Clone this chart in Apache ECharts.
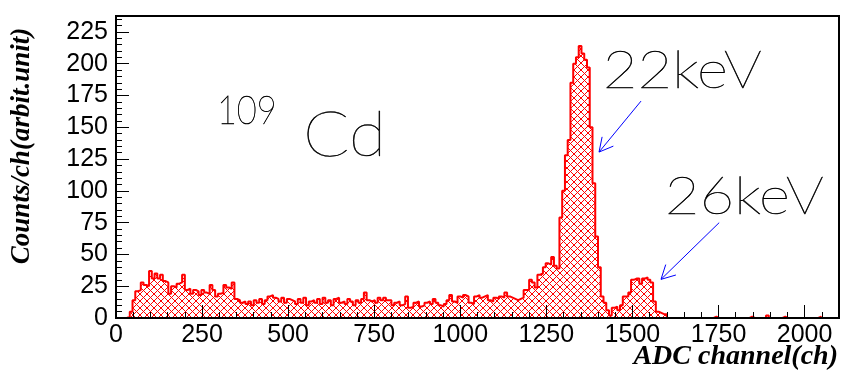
<!DOCTYPE html>
<html>
<head>
<meta charset="utf-8">
<script src="https://cdn.jsdelivr.net/npm/echarts@6/dist/echarts.min.js"></script>
<style>
  html, body { margin: 0; padding: 0; background: #ffffff; }
  #chart { width: 841px; height: 372px; }
</style>
</head>
<body>
<div id="chart"></div>
<script>
// 109Cd spectrum: counts per 8-channel ADC bin, channels 0..2048
const binWidth = 8;
const counts = [
  0, 0, 0, 0, 1, 5, 14, 21, 22, 28, 26, 25, 37, 31, 35, 31,          // 0 - 127
  34, 29, 28, 19, 25, 24, 27, 28, 34, 22, 23, 19, 22, 21, 18, 22,     // 128 - 255
  20, 19, 26, 22, 17, 19, 20, 26, 24, 23, 28, 15, 14, 12, 13, 11,     // 256 - 383
  13, 10, 14, 12, 15, 11, 14, 17, 18, 16, 15, 13, 16, 12, 15, 14,     // 384 - 511
  13, 11, 15, 12, 16, 10, 13, 14, 12, 15, 11, 16, 12, 14, 10, 15,     // 512 - 639
  16, 12, 13, 11, 15, 13, 10, 14, 12, 15, 20, 14, 13, 14, 12, 16,     // 640 - 767
  14, 16, 14, 14, 10, 12, 13, 10, 11, 17, 8, 9, 12, 13, 9, 10,        // 768 - 895
  12, 13, 11, 15, 12, 10, 9, 11, 14, 18, 13, 12, 17, 16, 18, 17,      // 896 - 1023
  12, 11, 17, 18, 16, 17, 18, 14, 13, 16, 15, 17, 16, 20, 17, 16,     // 1024 - 1151
  15, 14, 15, 16, 22, 22, 30, 28, 24, 34, 35, 40, 43, 42, 48, 41,     // 1152 - 1279
  39, 79, 100, 128, 140, 185, 200, 205, 214, 208, 203, 197, 150, 106, 64, 40, // 1280 - 1407
  17, 12, 6, 2, 8, 9, 6, 10, 17, 17, 20, 30, 31, 31, 27, 31,          // 1408 - 1535
  32, 30, 28, 13, 5, 4, 3, 3, 0, 0, 0, 0, 0, 0, 0, 0,                 // 1536 - 1663
  0, 0, 0, 0, 0, 0, 0, 0, 0, 1, 0, 0, 0, 0, 0, 0,                     // 1664 - 1791
  0, 0, 0, 0, 0, 0, 1, 0, 0, 0, 0, 0, 2, 0, 0, 0,                     // 1792 - 1919
  0, 0, 1, 0, 0, 0, 0, 0, 0, 0, 0, 0, 0, 0, 0, 1                      // 1920 - 2047
];

// axis ranges and tick spacing
const xRange = [0, 2100];
const yRange = [0, 237.5];
const xMajorStep = 250, xMinorStep = 50;
const yMajorStep = 25, yMinorStep = 5;

// text drawn on the plot
const xTitle = 'ADC channel(ch)';
const yTitle = 'Counts/ch(arbit.unit)';
const massNumber = '109';
const element = 'Cd';
const lineNames = ['22keV', '26keV'];

// annotation anchors in data units [channel, counts]
const layout = {
  massNumber: [293, 162.8],
  element: [543, 143],
  lineText: [[1414, 194.2], [1594, 94.8]],
  arrowTail: [[1525, 170.6], [1752, 75]],
  arrowTip: [[1403, 130.5], [1583, 30.4]]
};

// step outline points at the left edge of every bin, closed at the last edge
const steps = counts.map((c, i) => [i * binWidth, c]);
steps.push([counts.length * binWidth, 0]);

function hatchTile() {
  const n = 7;
  const c = document.createElement('canvas');
  c.width = n; c.height = n;
  const g = c.getContext('2d');
  g.strokeStyle = '#ff0000';
  g.lineWidth = 1;
  g.beginPath();
  g.moveTo(-1, -1); g.lineTo(n + 1, n + 1);
  g.moveTo(-1, n + 1); g.lineTo(n + 1, -1);
  g.stroke();
  return c;
}

const tickFont = { fontFamily: '"Liberation Sans", Arial, sans-serif', fontSize: 25, color: '#000' };
const plainNumber = (v) => String(v);

function axisPair(kind, range, major, minor, pos) {
  const isX = kind === 'x';
  return [
    {
      type: 'value', min: range[0], max: range[1], interval: major,
      position: pos, z: 5,
      axisLine: { show: true, lineStyle: { color: '#000', width: 2 } },
      axisTick: { show: true, inside: true, length: 13, lineStyle: { color: '#000', width: 1 } },
      axisLabel: Object.assign({ margin: isX ? 5 : 8, showMaxLabel: false, showMinLabel: true, formatter: plainNumber }, tickFont),
      splitLine: { show: false }
    },
    {
      type: 'value', min: range[0], max: range[1], interval: minor,
      position: pos, z: 5,
      axisLine: { show: false },
      axisTick: { show: true, inside: true, length: 6, lineStyle: { color: '#000', width: 1 } },
      axisLabel: { show: false },
      splitLine: { show: false }
    }
  ];
}

const chart = echarts.init(document.getElementById('chart'), null, { renderer: 'canvas' });

chart.setOption({
  animation: false,
  backgroundColor: '#ffffff',
  grid: {
    left: 116, right: 2, top: 16, bottom: 54,
    show: true, borderColor: '#000', borderWidth: 2, backgroundColor: 'transparent'
  },
  xAxis: axisPair('x', xRange, xMajorStep, xMinorStep, 'bottom'),
  yAxis: axisPair('y', yRange, yMajorStep, yMinorStep, 'left'),
  series: [{
    type: 'line',
    xAxisIndex: 0, yAxisIndex: 0,
    data: steps,
    step: 'end',
    symbol: 'none',
    silent: true,
    lineStyle: { color: '#ff0000', width: 2 },
    areaStyle: { color: { image: hatchTile(), repeat: 'repeat' }, opacity: 1 },
    z: 2
  }]
});

function px(p) {
  return chart.convertToPixel({ xAxisIndex: 0, yAxisIndex: 0 }, p);
}

function arrow(tailData, tipData) {
  const s = px(tailData), t = px(tipData);
  const dx = s[0] - t[0], dy = s[1] - t[1];
  const len = Math.hypot(dx, dy);
  const ux = dx / len, uy = dy / len;
  const a = 28 * Math.PI / 180, h = 15.5;
  const rot = (ang) => [t[0] + h * (ux * Math.cos(ang) - uy * Math.sin(ang)),
                        t[1] + h * (ux * Math.sin(ang) + uy * Math.cos(ang))];
  const style = { stroke: '#0000ff', lineWidth: 1, fill: null };
  return [
    { type: 'polyline', shape: { points: [s, t] }, style, silent: true, z: 10 },
    { type: 'polyline', shape: { points: [rot(a), t, rot(-a)] }, style, silent: true, z: 10 }
  ];
}

// thin stroked lettering for the isotope and line names
function label(text, at, size, stretch) {
  const p = px(at);
  return {
    type: 'text', x: p[0], y: p[1], scaleX: stretch, silent: true, z: 10,
    style: {
      text, fill: '#000', stroke: '#000', lineWidth: 0.5,
      font: '200 ' + size + 'px Lato, "Open Sans", sans-serif',
      textAlign: 'left', textVerticalAlign: 'middle'
    }
  };
}

const titleFont = 'italic bold 28px "Liberation Serif", "DejaVu Serif", serif';

chart.setOption({
  graphic: [
    label(massNumber, layout.massNumber, 40, 0.86),
    label(element, layout.element, 62, 1.1),
    label(lineNames[0], layout.lineText[0], 52, 1.15),
    label(lineNames[1], layout.lineText[1], 52, 1.15),
    ...arrow(layout.arrowTail[0], layout.arrowTip[0]),
    ...arrow(layout.arrowTail[1], layout.arrowTip[1]),
    {
      type: 'text', x: 838, y: 357, silent: true,
      style: { text: xTitle, font: titleFont, fill: '#000', textAlign: 'right', textVerticalAlign: 'middle' }
    },
    {
      type: 'text', x: 22, y: 146, rotation: Math.PI / 2, silent: true,
      style: { text: yTitle, font: 'italic bold 27px "Liberation Serif", "DejaVu Serif", serif', fill: '#000', textAlign: 'center', textVerticalAlign: 'middle' }
    }
  ]
});
</script>
</body>
</html>
